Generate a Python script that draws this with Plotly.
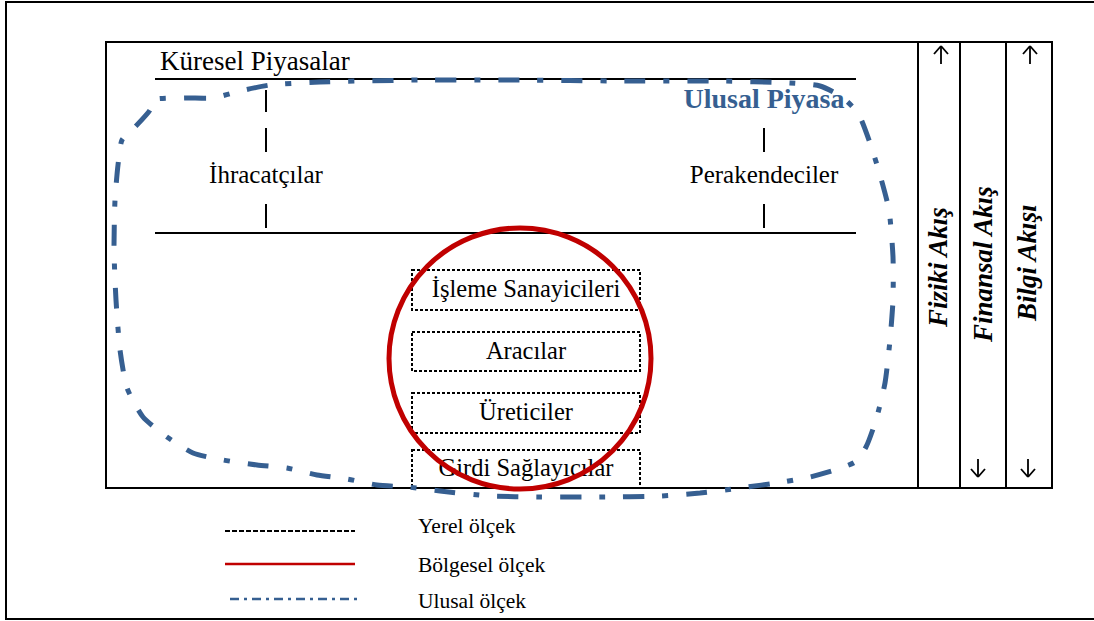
import plotly.graph_objects as go

W, H = 1094, 621
SERIF = "Liberation Serif, Times New Roman, serif"
BLUE = "#365F91"
RED = "#C00000"

# ---- content ----
global_label = "Küresel Piyasalar"
national_label = "Ulusal Piyasa"
market_actors = ["İhracatçılar", "Perakendeciler"]
actor_x = [266, 764]
chain_labels = ["İşleme Sanayicileri", "Aracılar", "Üreticiler", "Girdi Sağlayıcılar"]
chain_top = [270, 332, 393, 450]
chain_bottom = [310, 371, 433, 488]
flow_labels = ["Fiziki Akış", "Finansal Akış", "Bilgi Akışı"]
flow_x = [938, 983, 1027]
flow_y = [268, 265, 263]
legend_labels = ["Yerel ölçek", "Bölgesel ölçek", "Ulusal ölçek"]
legend_y = [528, 567, 603]
# flow direction arrows: (x, direction) ; +1 = up (top), -1 = down (bottom)
arrow_x = [941, 1030, 978, 1028]
arrow_dir = [1, 1, -1, -1]

# national-scale boundary path (pixel space)
curve_x = [153, 185, 213, 240, 270, 320, 420, 520, 620, 720, 790, 820, 842, 858, 870, 880, 889, 893, 893,
           890, 885, 876, 866, 855, 835, 810, 783, 740, 700, 660, 600, 540, 490, 440, 407, 377, 347, 317,
           287, 257, 223, 193, 167, 143, 127, 120, 116, 114, 115, 118, 122, 135, 150, 153]
curve_y = [100, 98, 98, 91, 85, 82, 80, 80, 81, 81, 83, 86, 97, 113, 143, 175, 210, 257, 300,
           340, 383, 420, 447, 462, 470, 477, 482, 488, 493, 496, 497, 497, 496, 491, 487, 485, 479, 475,
           468, 465, 460, 453, 437, 417, 388, 350, 300, 250, 200, 165, 140, 127, 110, 100]

fig = go.Figure()

shapes = []
def line(x0, y0, x1, y1, color="black", width=2, dash="solid", layer="below"):
    shapes.append(dict(type="line", xref="x", yref="y", x0=x0, y0=y0, x1=x1, y1=y1,
                       line=dict(color=color, width=width, dash=dash), layer=layer))

# outer frame
shapes.append(dict(type="rect", xref="x", yref="y", x0=6, y0=2, x1=1100, y1=619,
                   line=dict(color="black", width=2), layer="below"))
# main frame
shapes.append(dict(type="rect", xref="x", yref="y", x0=106, y0=42, x1=1052, y1=488,
                   line=dict(color="black", width=2), layer="below"))
for cx in [918, 960, 1006]:
    line(cx, 42, cx, 488)
# global market lines
line(155, 79, 856, 79)
line(155, 233, 856, 233)
# vertical ticks
line(266, 90, 266, 112)
line(266, 128, 266, 152)
line(266, 204, 266, 228)
line(764, 128, 764, 152)
line(764, 204, 764, 228)
# chain boxes (local scale)
for t, b in zip(chain_top, chain_bottom):
    shapes.append(dict(type="rect", xref="x", yref="y", x0=412, y0=t, x1=640, y1=b,
                       line=dict(color="black", width=2, dash="3px,2px"), layer="below"))
# regional circle
shapes.append(dict(type="circle", xref="x", yref="y", x0=389, y0=228, x1=651, y1=489,
                   line=dict(color=RED, width=5), layer="above"))
# flow arrows (thin open arrows)
for ax, d in zip(arrow_x, arrow_dir):
    if d > 0:
        tip, tail = 46, 64
    else:
        tip, tail = 477, 459
    line(ax, tail, ax, tip, width=1.8)
    line(ax - 7, tip + 8 * d, ax, tip, width=1.8)
    line(ax + 7, tip + 8 * d, ax, tip, width=1.8)
# legend samples
line(225, 531, 355, 531, dash="5px,2px")
line(225, 564, 355, 564, color=RED, width=2.5)
line(230, 599, 362, 599, color=BLUE, width=2.5, dash="9px,5px,3px,5px")

# national boundary
fig.add_trace(go.Scatter(x=curve_x, y=curve_y, mode="lines",
                         line=dict(color=BLUE, width=5, dash="21px,18px,6px,18px", shape="spline", smoothing=0.6),
                         hoverinfo="skip"))

def text(x, y, s, size, color="black", bold=False, anchor="middle center"):
    fig.add_trace(go.Scatter(x=[x], y=[y], mode="text", text=[f"<b>{s}</b>" if bold else s],
                             textposition=anchor,
                             textfont=dict(family=SERIF, size=size, color=color), hoverinfo="skip"))

text(160, 63, global_label, 27, anchor="middle right")
text(764, 101, national_label, 28, color=BLUE, bold=True)
for s, x in zip(market_actors, actor_x):
    text(x, 177, s, 25)
for s, t, b in zip(chain_labels, chain_top, chain_bottom):
    text(526, (t + b) / 2 + 1, s, 24.5)
for s, y in zip(legend_labels, legend_y):
    text(418, y, s, 21.5, anchor="middle right")

annotations = []
for s, x, y in zip(flow_labels, flow_x, flow_y):
    annotations.append(dict(x=x, y=y, xref="x", yref="y", text=f"<b><i>{s}</i></b>", showarrow=False,
                            textangle=-90, font=dict(family=SERIF, size=27, color="black")))

fig.update_layout(
    width=W, height=H, margin=dict(l=0, r=0, t=0, b=0),
    paper_bgcolor="white", plot_bgcolor="white", showlegend=False,
    xaxis=dict(range=[0, W], visible=False, fixedrange=True),
    yaxis=dict(range=[H, 0], visible=False, fixedrange=True),
    shapes=shapes, annotations=annotations,
)
fig.write_html("out.html", config={"displayModeBar": False},
               post_script="document.body.style.margin='0';")
